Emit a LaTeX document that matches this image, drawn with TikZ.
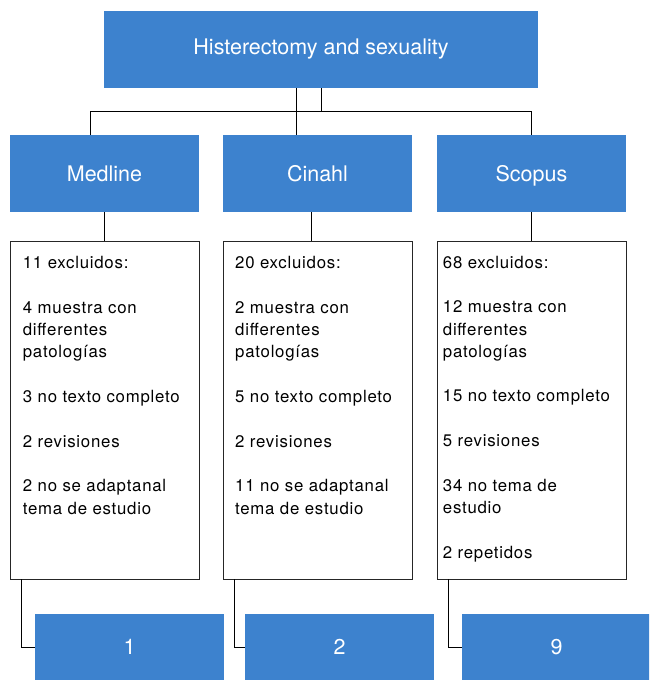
\documentclass[tikz,border=0pt]{standalone}
\usepackage{fontspec}
\setmainfont{TeX Gyre Heros}
\newfontfamily\listfont[LetterSpace=4.5]{TeX Gyre Heros}
\definecolor{boxblue}{RGB}{61,130,206}

\begin{document}
\begin{tikzpicture}[x=1pt,y=-1pt,
		bluebox/.style={fill=boxblue,text=white,minimum width=189pt,minimum height=77pt,inner sep=0pt,font=\fontsize{21.5}{26}\selectfont},
		dbbox/.style={bluebox,text depth=0pt},
		listbox/.style={draw=black!85,line width=0.9pt,fill=white,minimum width=189pt,minimum height=338pt,inner sep=0pt},
		listtext/.style={anchor=base west,align=left,inner sep=0pt,font=\listfont\fontsize{16.8}{22.3}\selectfont},
		link/.style={draw=black,line width=0.9pt}]
			\clip (0,0) rectangle (649,680);
			% search and databases
			\node[bluebox,minimum width=434pt] (topic) at (321,49.5) {Histerectomy and sexuality};
			\node[dbbox] (medline) at (104.5,173.5) {Medline};
			\node[dbbox] (cinahl) at (317.5,173.5) {Cinahl};
			\node[dbbox] (scopus) at (531.5,173.5) {Scopus};
			% excluded (base = last line)
			\node[listbox] (excl1) at (104.5,410) {};
			\node[listbox] (excl2) at (317.5,410) {};
			\node[listbox] (excl3) at (531.5,410) {};
			\node[listtext] (list1) at (22.7,514) {11 excluidos:\\[22.3pt] 4 muestra con\\ differentes\\ patologías\\[22.3pt] 3 no texto completo\\[22.3pt] 2 revisiones\\[22.3pt] 2 no se adaptanal\\ tema de estudio};
			\node[listtext] (list2) at (235,514) {20 excluidos:\\[22.3pt] 2 muestra con\\ differentes\\ patologías\\[22.3pt] 5 no texto completo\\[22.3pt] 2 revisiones\\[22.3pt] 11 no se adaptanal\\ tema de estudio};
			\node[listtext] (list3) at (442.7,558) {68 excluidos:\\[22.3pt] 12 muestra con\\ differentes\\ patologías\\[22.3pt] 15 no texto completo\\[22.3pt] 5 revisiones\\[22.3pt] 34 no tema de\\ estudio\\[22.3pt] 2 repetidos};
			% included
			\node[bluebox,minimum height=66pt] (res1) at (129.5,647) {1};
			\node[bluebox,minimum height=66pt] (res2) at (339.5,647) {2};
			\node[bluebox,minimum height=66pt] (res3) at (556.5,647) {9};
			\draw[link] ([xshift=-25pt]topic.south) -- ([xshift=-21.5pt]cinahl.north);
			\draw[link] (topic.south) -- ++(0,23) coordinate (bus);
			\draw[link] ([xshift=-14.5pt]medline.north) |- (bus -| scopus.north) -- (scopus.north);
			\draw[link] (medline.south) -- (excl1.north);
			\draw[link] ([xshift=-6.5pt]cinahl.south) -- ([xshift=-6.5pt]excl2.north);
			\draw[link] (scopus.south) -- (excl3.north);
			\draw[link] ([xshift=11.7pt]excl1.south west) |- (res1.west);
			\draw[link] ([xshift=11.7pt]excl2.south west) |- (res2.west);
			\draw[link] ([xshift=12.3pt]excl3.south west) |- (res3.west);
		\end{tikzpicture}
\end{document}
